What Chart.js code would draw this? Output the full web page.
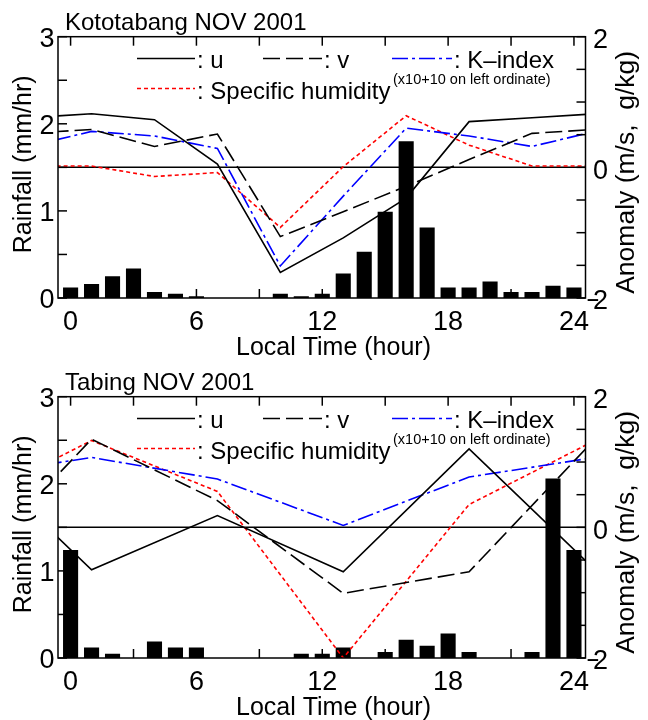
<!DOCTYPE html>
<html><head><meta charset="utf-8">
<script src="https://cdn.jsdelivr.net/npm/chart.js@4.4.0/dist/chart.umd.min.js"></script>
<style>
html,body{margin:0;padding:0;background:#fff;}
canvas{display:block;}
</style></head>
<body>
<canvas id="c1" width="648" height="360"></canvas>
<canvas id="c2" width="648" height="360"></canvas>
<script>
// ---------- data ----------
const rainHours = [0,1,2,3,4,5,6,7,8,9,10,11,12,13,14,15,16,17,18,19,20,21,22,23,24];
const xTickLabels = ['0','6','12','18','24'];
const yTickLabels = ['0','1','2','3'];
const y2TickLabels = ['-2','0','2'];

// Kototabang (3-hourly sonde, wrapped: -2 = 22 LT, 25 = 1 LT)
const rainKoto  = [0.12,0.16,0.25,0.34,0.07,0.05,0.02,0,0,0,0.05,0.02,0.05,0.28,0.53,0.99,1.80,0.81,0.12,0.12,0.19,0.07,0.07,0.14,0.12];
const hoursKoto = [-2,1,4,7,10,13,16,19,22,25];
const uKoto     = [0.76,0.82,0.73,0.05,-1.61,-1.08,-0.47,0.70,0.76,0.82];
const vKoto     = [0.52,0.58,0.32,0.51,-1.06,-0.68,-0.29,0.12,0.52,0.58];
const kKoto     = [0.32,0.55,0.48,0.29,-1.51,-0.44,0.60,0.48,0.32,0.55];
const qKoto     = [0.02,0.02,-0.14,-0.08,-0.92,0.01,0.79,0.34,0.02,0.02];

// Tabing (6-hourly sonde, wrapped: -5 = 19 LT, 25 = 1 LT)
const rainTab  = [1.24,0.12,0.05,0,0.19,0.12,0.12,0,0,0,0,0.05,0.05,0.12,0,0.07,0.21,0.14,0.28,0.07,0,0,0.07,2.06,1.24];
const hoursTab = [-5,1,7,13,19,25];
const uTab     = [1.20,-0.65,0.18,-0.68,1.20,-0.65];
const vTab     = [-0.68,1.35,0.41,-1.01,-0.68,1.35];
const kTab     = [0.77,1.07,0.74,0.03,0.77,1.07];
const qTab     = [0.35,1.33,0.55,-2.00,0.35,1.33];

const FONT = "'Liberation Sans', Arial, Helvetica, sans-serif";

function pts(xs, ys){ return xs.map((x,i)=>({x:x, y:ys[i]})); }

const decor = {
  id:'decor',
  beforeDatasetsDraw(chart){
    const {ctx, chartArea:a, scales} = chart;
    const y0 = scales.y2.getPixelForValue(0);
    ctx.save();
    ctx.strokeStyle='#000'; ctx.lineWidth=1.5;
    ctx.beginPath(); ctx.moveTo(a.left,y0); ctx.lineTo(a.right,y0); ctx.stroke();
    ctx.restore();
  },
  afterDraw(chart, args, opts){
    const {ctx, chartArea:a, scales:{x,y,y2}} = chart;
    ctx.save();
    ctx.strokeStyle='#000'; ctx.lineWidth=1.5; ctx.setLineDash([]);
    const seg=(x1,y1,x2,y2_)=>{ctx.beginPath();ctx.moveTo(x1,y1);ctx.lineTo(x2,y2_);ctx.stroke();};
    ctx.strokeRect(a.left,a.top,a.right-a.left,a.bottom-a.top);
    const L=9;
    x.ticks.forEach(t=>{const p=x.getPixelForValue(t.value); seg(p,a.top,p,a.top+L); seg(p,a.bottom,p,a.bottom-L);});
    y.ticks.forEach(t=>{const p=y.getPixelForValue(t.value); seg(a.left,p,a.left+L,p);});
    y2.ticks.forEach(t=>{const p=y2.getPixelForValue(t.value); seg(a.right,p,a.right-L,p);});

    // y tick labels (from the scales' own ticks)
    ctx.fillStyle='#000'; ctx.font='27px '+FONT; ctx.textBaseline='middle';
    ctx.textAlign='right';
    y.ticks.forEach(t=>{
      const s=String(t.value); if(!yTickLabels.includes(s)) return;
      ctx.fillText(s, a.left-3.5, y.getPixelForValue(t.value)+3);
    });
    y2.ticks.forEach(t=>{
      const s=String(t.value); if(!y2TickLabels.includes(s)) return;
      const py=y2.getPixelForValue(t.value)+4;
      const xr=a.right+22.5;
      ctx.textAlign='right';
      ctx.fillText(String(Math.abs(t.value)), xr, py);
      if(t.value<0){
        ctx.save(); ctx.translate(a.right+1.2, py); ctx.scale(0.8,1);
        ctx.textAlign='left'; ctx.fillText('\u2212',0,0); ctx.restore();
      }
    });

    // legend
    const dss = chart.data.datasets;
    const items = [
      {i:0, x1:137, x2:195, ly:58.5, tx:197, ty:68, t:': u'},
      {i:1, x1:263, x2:322, ly:58.5, tx:324, ty:68, t:': v'},
      {i:2, x1:392, x2:452, ly:58.5, tx:454, ty:68, t:': K\u2013index'},
      {i:3, x1:137, x2:195, ly:88.5, tx:197, ty:99, t:': Specific humidity'}
    ];
    items.forEach(it=>{
      const d = dss[it.i];
      ctx.strokeStyle=d.borderColor; ctx.lineWidth=d.borderWidth;
      ctx.setLineDash(d.borderDash||[]);
      seg(it.x1,it.ly,it.x2,it.ly);
      ctx.setLineDash([]);
      ctx.fillStyle='#000'; ctx.font='24px '+FONT; ctx.textAlign='left'; ctx.textBaseline='alphabetic';
      ctx.fillText(it.t,it.tx,it.ty);
    });
    ctx.font='14.5px '+FONT;
    ctx.fillText('(x10+10 on left ordinate)',393,84);

    // panel title
    ctx.font='24px '+FONT;
    ctx.fillText(opts.title,65,29.5);

    // axis titles
    ctx.font='25px '+FONT; ctx.textAlign='center';
    ctx.fillText('Local Time (hour)',333.5,355);
    ctx.save();
    ctx.translate(24,(a.top+a.bottom)/2-3); ctx.rotate(-Math.PI/2);
    ctx.textBaseline='middle';
    ctx.fillText('Rainfall (mm/hr)',0,0);
    ctx.restore();
    ctx.save();
    ctx.font='26.5px '+FONT;
    ctx.translate(626.5,(a.top+a.bottom)/2+5); ctx.rotate(-Math.PI/2);
    ctx.textBaseline='middle';
    ctx.fillText('Anomaly (m/s,  g/kg)',0,0);
    ctx.restore();
    ctx.restore();
  }
};

function makeChart(id, title, rain, hrs, u, v, k, q){
  const lineBase = {type:'line', yAxisID:'y2', pointRadius:0, tension:0, fill:false, borderWidth:1.6, order:0};
  return new Chart(document.getElementById(id), {
    type:'bar',
    data:{ datasets:[
      Object.assign({}, lineBase, {label:'u', data:pts(hrs,u), borderColor:'#000000'}),
      Object.assign({}, lineBase, {label:'v', data:pts(hrs,v), borderColor:'#000000', borderDash:[17,6]}),
      Object.assign({}, lineBase, {label:'K-index', data:pts(hrs,k), borderColor:'#0000ff', borderDash:[16,4,3,4]}),
      Object.assign({}, lineBase, {label:'Specific humidity', data:pts(hrs,q), borderColor:'#ff0000', borderDash:[4,3]}),
      {type:'bar', label:'Rainfall', yAxisID:'y', data:pts(rainHours,rain), backgroundColor:'#000000',
       borderWidth:0, barPercentage:0.72, categoryPercentage:1.0, order:1}
    ]},
    options:{
      responsive:false, animation:false, devicePixelRatio:1,
      layout:{padding:{top:36.7,left:0,right:40,bottom:0}},
      plugins:{legend:{display:false}, tooltip:{enabled:false}, title:{display:false}, decor:{title:title}},
      scales:{
        x:{type:'linear', position:'bottom', min:-0.6, max:24.55, offset:false,
           grid:{display:false, drawTicks:false}, border:{display:false},
           ticks:{stepSize:3, includeBounds:false, autoSkip:false, maxRotation:0, minRotation:0, padding:8,
                  color:'#000', font:{family:FONT, size:27},
                  callback:(val)=>{const s=String(val); return xTickLabels.includes(s)?s:'';}},
           afterFit:(s)=>{s.height=62;}},
        y:{type:'linear', position:'left', min:0, max:3,
           grid:{display:false, drawTicks:false}, border:{display:false},
           ticks:{display:false, stepSize:0.5},
           afterFit:(s)=>{s.width=58;}},
        y2:{type:'linear', position:'right', min:-2, max:2,
           grid:{display:false, drawTicks:false}, border:{display:false},
           ticks:{display:false, stepSize:0.5},
           afterFit:(s)=>{s.width=22.5;}}
      }
    },
    plugins:[decor]
  });
}

makeChart('c1','Kototabang NOV 2001', rainKoto, hoursKoto, uKoto, vKoto, kKoto, qKoto);
makeChart('c2','Tabing NOV 2001', rainTab, hoursTab, uTab, vTab, kTab, qTab);
</script>
</body></html>
